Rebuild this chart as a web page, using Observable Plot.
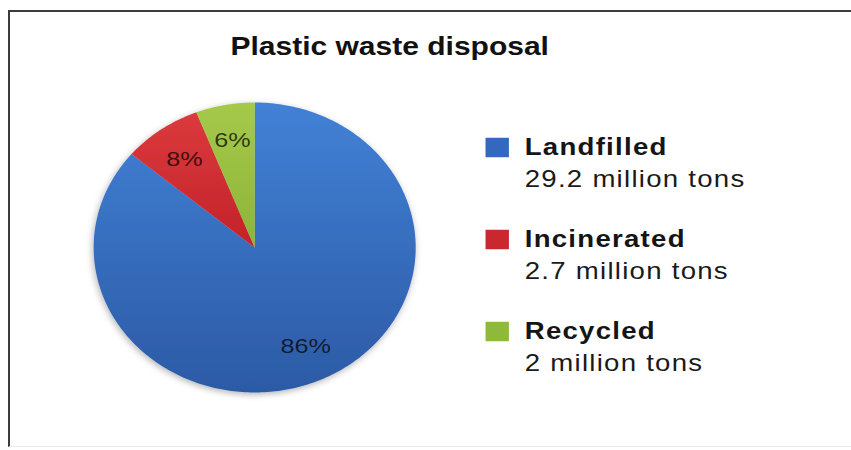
<!DOCTYPE html>
<html><head><meta charset="utf-8">
<script src="https://cdn.jsdelivr.net/npm/d3@7"></script>
<script src="https://cdn.jsdelivr.net/npm/@observablehq/plot@0.6"></script>
<style>
html,body{margin:0;padding:0;background:#fff;}
#chart{position:absolute;left:0;top:0;width:851px;height:450px;}
#frame{position:absolute;left:8px;top:10px;width:900px;height:434px;border-left:2px solid #3c3c3c;border-top:2px solid #3c3c3c;border-bottom:1px solid #ececec;pointer-events:none;}
</style></head><body>
<svg width="0" height="0" style="position:absolute">
<defs>
<linearGradient id="gLandfilled" x1="0" y1="0" x2="0" y2="1"><stop offset="0" stop-color="#4281d6"/><stop offset="1" stop-color="#2c5aa5"/></linearGradient>
<linearGradient id="gIncinerated" x1="0" y1="0" x2="0" y2="1"><stop offset="0" stop-color="#db3a3d"/><stop offset="1" stop-color="#c32229"/></linearGradient>
<linearGradient id="gRecycled" x1="0" y1="0" x2="0" y2="1"><stop offset="0" stop-color="#a5ca4a"/><stop offset="1" stop-color="#8db338"/></linearGradient>
<filter id="pieShadow" x="-10%" y="-10%" width="120%" height="125%">
<feGaussianBlur in="SourceAlpha" stdDeviation="3"/>
<feOffset dx="-1" dy="2" result="b"/>
<feFlood flood-color="#000" flood-opacity="0.3"/>
<feComposite in2="b" operator="in"/>
<feMerge><feMergeNode/><feMergeNode in="SourceGraphic"/></feMerge>
</filter>
</defs></svg>
<div id="chart"></div>
<div id="frame"></div>
<script>
// ---- data ----
const title = "Plastic waste disposal";
const categories = ["Landfilled", "Incinerated", "Recycled"];
const tons = [29.2, 2.7, 2];
const amountLabels = ["29.2 million tons", "2.7 million tons", "2 million tons"];
const swatchColors = ["#3468bf", "#c9282e", "#8fb93b"];
const gradientIds = ["gLandfilled", "gIncinerated", "gRecycled"];

// ---- layout ----
const S = 1.2;                 // horizontal stretch of the picture
const W = Math.round(851 / S), H = 450;
const cx = 254 / S, cy = 247, rx = 161 / S, ry = 145;
const legendX = 524 / S, swatchX = 496.5 / S, legendTop = 154, legendStep = 92;

const data = categories.map((name, i) => ({
  name, tons: tons[i], amount: amountLabels[i], swatch: swatchColors[i],
  grad: `url(#${gradientIds[i]})`, i
}));
const total = d3.sum(tons);
const arcs = d3.pie().sort(null).value(d => d.tons)(data);

const slicePts = arcs.flatMap(a => {
  const n = Math.max(2, Math.ceil((a.endAngle - a.startAngle) / (Math.PI / 180)));
  const base = {name: a.data.name, grad: a.data.grad};
  const pts = [{...base, x: cx, y: cy}];
  for (let k = 0; k <= n; k++) {
    const t = a.startAngle + (a.endAngle - a.startAngle) * k / n;
    pts.push({...base, x: cx + rx * Math.sin(t), y: cy - ry * Math.cos(t)});
  }
  pts.push({...base, x: cx, y: cy});
  return pts;
});

const pctLabels = arcs.map(a => {
  const m = (a.startAngle + a.endAngle) / 2;
  return {x: cx + 0.75 * rx * Math.sin(m), y: cy - 0.75 * ry * Math.cos(m),
          text: d3.format(".0%")(a.data.tons / total)};
});

const legend = data.map(d => ({
  ...d,
  by: legendTop + d.i * legendStep,
  ay: legendTop + d.i * legendStep + 32,
  sy: legendTop + d.i * legendStep - 7
}));

const plot = Plot.plot({
  width: W, height: H, margin: 0,
  style: {background: "transparent", fontFamily: "'Liberation Sans', Arial, Helvetica, sans-serif"},
  x: {domain: [0, W], range: [0, W], axis: null},
  y: {domain: [0, H], range: [0, H], axis: null},
  color: {type: "identity"},
  marks: [
    Plot.line(slicePts, {x: "x", y: "y", z: "name", fill: "grad", stroke: "none", curve: "linear"}),
    Plot.text(pctLabels, {x: "x", y: "y", text: "text", fontSize: 21, fill: "#000", fillOpacity: 0.72}),
    Plot.text([title], {x: 389 / S, y: 54, text: d => d, fontSize: 25, fontWeight: "bold", lineAnchor: "bottom", fill: "#111"}),
    Plot.dot(legend, {x: swatchX, y: "sy", symbol: "square", r: 11, fill: "swatch"}),
    Plot.text(legend, {x: legendX, y: "by", text: "name", textAnchor: "start", lineAnchor: "bottom", fontWeight: "bold", fontSize: 23, fill: "#151515"}),
    Plot.text(legend, {x: legendX, y: "ay", text: "amount", textAnchor: "start", lineAnchor: "bottom", fontSize: 23, fill: "#1a1a1a"})
  ]
});

plot.setAttribute("width", 851);
plot.setAttribute("height", 450);
plot.setAttribute("preserveAspectRatio", "none");
plot.style.width = "851px";
plot.style.height = "450px";
plot.style.maxWidth = "none";

const textGroups = plot.querySelectorAll('g[aria-label="text"]');
if (textGroups[2]) textGroups[2].style.letterSpacing = "1.05px";
if (textGroups[3]) textGroups[3].style.letterSpacing = "1.05px";
const lineGroup = plot.querySelector('g[aria-label="line"]');
if (lineGroup) lineGroup.setAttribute("filter", "url(#pieShadow)");

document.getElementById("chart").appendChild(plot);
</script>
</body></html>
